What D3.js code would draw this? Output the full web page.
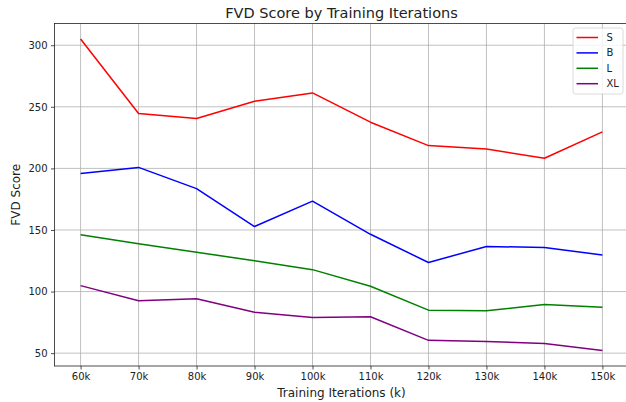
<!DOCTYPE html>
<html>
<head>
<meta charset="utf-8">
<script src="https://cdn.jsdelivr.net/npm/d3@7"></script>
<style>
  body { margin: 0; background: #fff; overflow: hidden; }
  text { font-family: "DejaVu Sans", sans-serif; fill: #222; }
</style>
</head>
<body>
<svg id="chart" width="626" height="402"></svg>
<script>
"use strict";

// training iterations (k) and FVD per model size
var iterations = [60, 70, 80, 90, 100, 110, 120, 130, 140, 150];
var fvd_s = [305, 244.5, 240.5, 254.5, 261.3, 237.5, 218.5, 215.8, 208.2, 229.6];
var fvd_b = [195.8, 200.8, 183.6, 152.8, 173.4, 146.5, 123.6, 136.6, 135.8, 129.6];
var fvd_l = [146.2, 138.9, 131.9, 125.1, 117.8, 104.3, 84.9, 84.5, 89.4, 87.3];
var fvd_xl = [104.8, 92.6, 94.2, 83.2, 78.9, 79.6, 60.4, 59.5, 57.8, 52.2];
var series_names = ["S", "B", "L", "XL"];
var series_colors = ["#ff0000", "#0000ff", "#008000", "#800080"];
var y_ticks = [50, 100, 150, 200, 250, 300];

var series = [fvd_s, fvd_b, fvd_l, fvd_xl].map(function (vals, i) {
  return {
    name: series_names[i],
    color: series_colors[i],
    values: vals.map(function (v, j) { return { x: iterations[j], y: v }; })
  };
});

// the axes run a bit past the right edge of the picture (cropped figure)
var svg = d3.select("#chart"),
  plot_left = 54.5, plot_right = 628.5, plot_top = 23.5, plot_bottom = 366;

// matplotlib style 5% margins
var x_pad = (d3.max(iterations) - d3.min(iterations)) * 0.05;
var x = d3.scaleLinear()
  .domain([d3.min(iterations) - x_pad, d3.max(iterations) + x_pad])
  .range([plot_left, plot_right]);

var all_y = d3.merge([fvd_s, fvd_b, fvd_l, fvd_xl]);
var y_pad = (d3.max(all_y) - d3.min(all_y)) * 0.05;
var y = d3.scaleLinear()
  .domain([d3.min(all_y) - y_pad, d3.max(all_y) + y_pad])
  .range([plot_bottom, plot_top]);

// grid
var grid = svg.append("g").attr("class", "grid");
grid.selectAll(".gx")
  .data(iterations)
  .enter().append("line")
  .attr("x1", function (d) { return x(d); })
  .attr("x2", function (d) { return x(d); })
  .attr("y1", plot_top)
  .attr("y2", plot_bottom)
  .attr("stroke", "#b0b0b0")
  .attr("stroke-width", 0.8);
grid.selectAll(".gy")
  .data(y_ticks)
  .enter().append("line")
  .attr("x1", plot_left)
  .attr("x2", plot_right)
  .attr("y1", function (d) { return y(d); })
  .attr("y2", function (d) { return y(d); })
  .attr("stroke", "#b0b0b0")
  .attr("stroke-width", 0.8);

// lines
var line = d3.line()
  .x(function (d) { return x(d.x); })
  .y(function (d) { return y(d.y); });

svg.selectAll(".series")
  .data(series)
  .enter().append("path")
  .attr("class", "series")
  .attr("d", function (d) { return line(d.values); })
  .attr("fill", "none")
  .attr("stroke", function (d) { return d.color; })
  .attr("stroke-width", 1.5)
  .attr("stroke-linejoin", "round");

// axes
var x_axis = svg.append("g")
  .attr("transform", "translate(0," + plot_bottom + ")")
  .call(d3.axisBottom(x).tickValues(iterations)
    .tickFormat(function (d) { return d + "k"; })
    .tickSizeInner(3.5).tickSizeOuter(0).tickPadding(3.5));

var y_axis = svg.append("g")
  .attr("transform", "translate(" + plot_left + ",0)")
  .call(d3.axisLeft(y).tickValues(y_ticks)
    .tickSizeInner(3.5).tickSizeOuter(0).tickPadding(3.5));

[x_axis, y_axis].forEach(function (ax) {
  ax.select(".domain").remove();
  ax.selectAll("text").style("font-size", "10px")
    .style("font-family", "DejaVu Sans, sans-serif").attr("fill", "#222");
  ax.selectAll("line").attr("stroke", "#222").attr("stroke-width", 0.8);
});

// frame
svg.append("rect")
  .attr("x", plot_left)
  .attr("y", plot_top)
  .attr("width", plot_right - plot_left)
  .attr("height", plot_bottom - plot_top)
  .attr("fill", "none")
  .attr("stroke", "#222")
  .attr("stroke-width", 0.8);

// titles
svg.append("text")
  .attr("x", (plot_left + plot_right) / 2)
  .attr("y", 18)
  .attr("text-anchor", "middle")
  .style("font-size", "14.5px")
  .text("FVD Score by Training Iterations");

svg.append("text")
  .attr("x", (plot_left + plot_right) / 2)
  .attr("y", 397)
  .attr("text-anchor", "middle")
  .style("font-size", "12px")
  .text("Training Iterations (k)");

svg.append("text")
  .attr("transform", "translate(19.5," + ((plot_top + plot_bottom) / 2) + ") rotate(-90)")
  .attr("text-anchor", "middle")
  .style("font-size", "12px")
  .text("FVD Score");

// legend
var legend = svg.append("g").attr("transform", "translate(573,28)");
legend.append("rect")
  .attr("width", 50)
  .attr("height", 66)
  .attr("rx", 2.5)
  .attr("fill", "#fff")
  .attr("fill-opacity", 0.8)
  .attr("stroke", "#d0d0d0")
  .attr("stroke-width", 0.8);

var item = legend.selectAll(".item")
  .data(series)
  .enter().append("g")
  .attr("transform", function (d, i) { return "translate(0," + (9.5 + i * 15.4) + ")"; });

item.append("line")
  .attr("x1", 3.5)
  .attr("x2", 25)
  .attr("stroke", function (d) { return d.color; })
  .attr("stroke-width", 1.5);

item.append("text")
  .attr("x", 33.5)
  .attr("dy", "0.35em")
  .style("font-size", "10px")
  .text(function (d) { return d.name; });
</script>
</body>
</html>
